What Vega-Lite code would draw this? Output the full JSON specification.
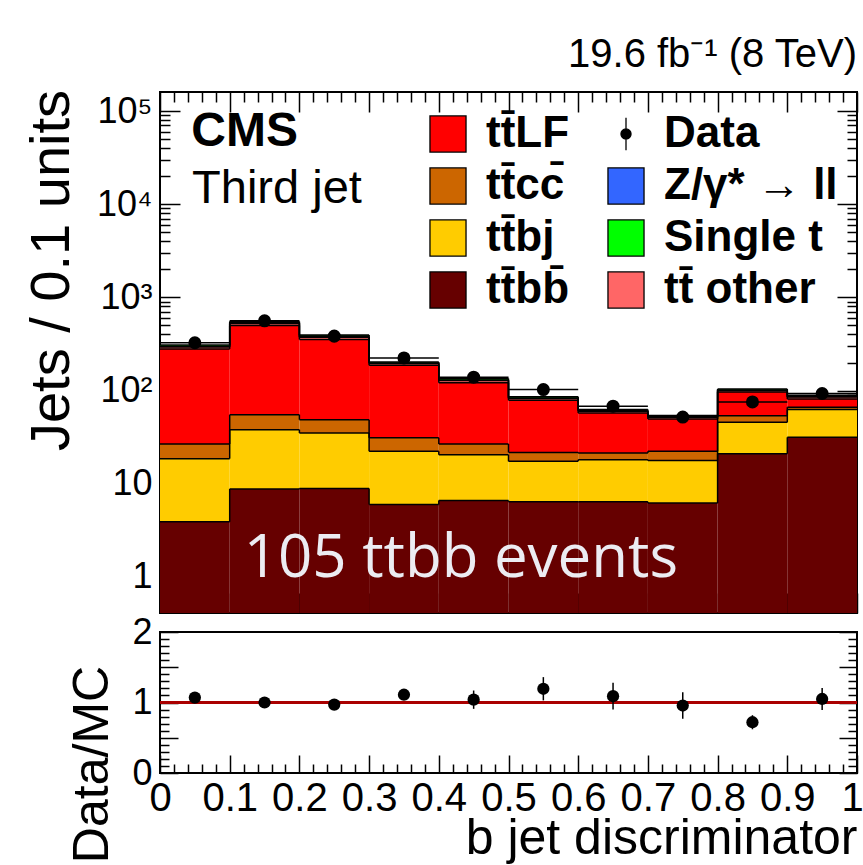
{
  "$schema": "https://vega.github.io/schema/vega-lite/v6.json",
  "background": "white",
  "padding": {"left": 22, "top": 34, "right": 0, "bottom": 0},
  "datasets": {
    "mc": [
      {"b0": 0.0, "b1": 0.1, "comp": "tt̄bb̄", "lo": 0.1, "hi": 3.9},
      {"b0": 0.0, "b1": 0.1, "comp": "tt̄bj", "lo": 3.9, "hi": 18.6},
      {"b0": 0.0, "b1": 0.1, "comp": "tt̄cc̄", "lo": 18.6, "hi": 26.7},
      {"b0": 0.0, "b1": 0.1, "comp": "tt̄LF", "lo": 26.7, "hi": 280},
      {"b0": 0.0, "b1": 0.1, "comp": "tt̄ other", "lo": 280, "hi": 294},
      {"b0": 0.0, "b1": 0.1, "comp": "Z/γ* → ll", "lo": 294, "hi": 298},
      {"b0": 0.0, "b1": 0.1, "comp": "Single t", "lo": 298, "hi": 308},
      {"b0": 0.1, "b1": 0.2, "comp": "tt̄bb̄", "lo": 0.1, "hi": 8.8},
      {"b0": 0.1, "b1": 0.2, "comp": "tt̄bj", "lo": 8.8, "hi": 38},
      {"b0": 0.1, "b1": 0.2, "comp": "tt̄cc̄", "lo": 38, "hi": 55},
      {"b0": 0.1, "b1": 0.2, "comp": "tt̄LF", "lo": 55, "hi": 500},
      {"b0": 0.1, "b1": 0.2, "comp": "tt̄ other", "lo": 500, "hi": 526},
      {"b0": 0.1, "b1": 0.2, "comp": "Z/γ* → ll", "lo": 526, "hi": 534},
      {"b0": 0.1, "b1": 0.2, "comp": "Single t", "lo": 534, "hi": 552},
      {"b0": 0.2, "b1": 0.3, "comp": "tt̄bb̄", "lo": 0.1, "hi": 8.9},
      {"b0": 0.2, "b1": 0.3, "comp": "tt̄bj", "lo": 8.9, "hi": 35},
      {"b0": 0.2, "b1": 0.3, "comp": "tt̄cc̄", "lo": 35, "hi": 48.7},
      {"b0": 0.2, "b1": 0.3, "comp": "tt̄LF", "lo": 48.7, "hi": 353},
      {"b0": 0.2, "b1": 0.3, "comp": "tt̄ other", "lo": 353, "hi": 373},
      {"b0": 0.2, "b1": 0.3, "comp": "Z/γ* → ll", "lo": 373, "hi": 379},
      {"b0": 0.2, "b1": 0.3, "comp": "Single t", "lo": 379, "hi": 394},
      {"b0": 0.3, "b1": 0.4, "comp": "tt̄bb̄", "lo": 0.1, "hi": 6.0},
      {"b0": 0.3, "b1": 0.4, "comp": "tt̄bj", "lo": 6.0, "hi": 22.3},
      {"b0": 0.3, "b1": 0.4, "comp": "tt̄cc̄", "lo": 22.3, "hi": 31.2},
      {"b0": 0.3, "b1": 0.4, "comp": "tt̄LF", "lo": 31.2, "hi": 187},
      {"b0": 0.3, "b1": 0.4, "comp": "tt̄ other", "lo": 187, "hi": 195},
      {"b0": 0.3, "b1": 0.4, "comp": "Z/γ* → ll", "lo": 195, "hi": 197},
      {"b0": 0.3, "b1": 0.4, "comp": "Single t", "lo": 197, "hi": 202},
      {"b0": 0.4, "b1": 0.5, "comp": "tt̄bb̄", "lo": 0.1, "hi": 6.6},
      {"b0": 0.4, "b1": 0.5, "comp": "tt̄bj", "lo": 6.6, "hi": 20.5},
      {"b0": 0.4, "b1": 0.5, "comp": "tt̄cc̄", "lo": 20.5, "hi": 26.7},
      {"b0": 0.4, "b1": 0.5, "comp": "tt̄LF", "lo": 26.7, "hi": 121},
      {"b0": 0.4, "b1": 0.5, "comp": "tt̄ other", "lo": 121, "hi": 128},
      {"b0": 0.4, "b1": 0.5, "comp": "Z/γ* → ll", "lo": 128, "hi": 130},
      {"b0": 0.4, "b1": 0.5, "comp": "Single t", "lo": 130, "hi": 135},
      {"b0": 0.5, "b1": 0.6, "comp": "tt̄bb̄", "lo": 0.1, "hi": 6.4},
      {"b0": 0.5, "b1": 0.6, "comp": "tt̄bj", "lo": 6.4, "hi": 17.4},
      {"b0": 0.5, "b1": 0.6, "comp": "tt̄cc̄", "lo": 17.4, "hi": 21.7},
      {"b0": 0.5, "b1": 0.6, "comp": "tt̄LF", "lo": 21.7, "hi": 78.7},
      {"b0": 0.5, "b1": 0.6, "comp": "tt̄ other", "lo": 78.7, "hi": 82.2},
      {"b0": 0.5, "b1": 0.6, "comp": "Z/γ* → ll", "lo": 82.2, "hi": 83.2},
      {"b0": 0.5, "b1": 0.6, "comp": "Single t", "lo": 83.2, "hi": 86},
      {"b0": 0.6, "b1": 0.7, "comp": "tt̄bb̄", "lo": 0.1, "hi": 6.4},
      {"b0": 0.6, "b1": 0.7, "comp": "tt̄bj", "lo": 6.4, "hi": 18.1},
      {"b0": 0.6, "b1": 0.7, "comp": "tt̄cc̄", "lo": 18.1, "hi": 21.4},
      {"b0": 0.6, "b1": 0.7, "comp": "tt̄LF", "lo": 21.4, "hi": 57.5},
      {"b0": 0.6, "b1": 0.7, "comp": "tt̄ other", "lo": 57.5, "hi": 60},
      {"b0": 0.6, "b1": 0.7, "comp": "Z/γ* → ll", "lo": 60, "hi": 60.7},
      {"b0": 0.6, "b1": 0.7, "comp": "Single t", "lo": 60.7, "hi": 62.5},
      {"b0": 0.7, "b1": 0.8, "comp": "tt̄bb̄", "lo": 0.1, "hi": 6.2},
      {"b0": 0.7, "b1": 0.8, "comp": "tt̄bj", "lo": 6.2, "hi": 17.8},
      {"b0": 0.7, "b1": 0.8, "comp": "tt̄cc̄", "lo": 17.8, "hi": 22.3},
      {"b0": 0.7, "b1": 0.8, "comp": "tt̄LF", "lo": 22.3, "hi": 49.5},
      {"b0": 0.7, "b1": 0.8, "comp": "tt̄ other", "lo": 49.5, "hi": 51.7},
      {"b0": 0.7, "b1": 0.8, "comp": "Z/γ* → ll", "lo": 51.7, "hi": 52.4},
      {"b0": 0.7, "b1": 0.8, "comp": "Single t", "lo": 52.4, "hi": 54},
      {"b0": 0.8, "b1": 0.9, "comp": "tt̄bb̄", "lo": 0.1, "hi": 21},
      {"b0": 0.8, "b1": 0.9, "comp": "tt̄bj", "lo": 21, "hi": 45.6},
      {"b0": 0.8, "b1": 0.9, "comp": "tt̄cc̄", "lo": 45.6, "hi": 53.8},
      {"b0": 0.8, "b1": 0.9, "comp": "tt̄LF", "lo": 53.8, "hi": 96.8},
      {"b0": 0.8, "b1": 0.9, "comp": "tt̄ other", "lo": 96.8, "hi": 100.3},
      {"b0": 0.8, "b1": 0.9, "comp": "Z/γ* → ll", "lo": 100.3, "hi": 101.3},
      {"b0": 0.8, "b1": 0.9, "comp": "Single t", "lo": 101.3, "hi": 104},
      {"b0": 0.9, "b1": 1.0, "comp": "tt̄bb̄", "lo": 0.1, "hi": 31.5},
      {"b0": 0.9, "b1": 1.0, "comp": "tt̄bj", "lo": 31.5, "hi": 62.5},
      {"b0": 0.9, "b1": 1.0, "comp": "tt̄cc̄", "lo": 62.5, "hi": 66.3},
      {"b0": 0.9, "b1": 1.0, "comp": "tt̄LF", "lo": 66.3, "hi": 81.3},
      {"b0": 0.9, "b1": 1.0, "comp": "tt̄ other", "lo": 81.3, "hi": 85.1},
      {"b0": 0.9, "b1": 1.0, "comp": "Z/γ* → ll", "lo": 85.1, "hi": 86.2},
      {"b0": 0.9, "b1": 1.0, "comp": "Single t", "lo": 86.2, "hi": 89}
    ],
    "obs": [
      {"xc": 0.05, "b0": 0.0, "b1": 0.1, "n": 326, "nlo": 308, "nhi": 344, "r": 1.07, "rlo": 1.04, "rhi": 1.10},
      {"xc": 0.15, "b0": 0.1, "b1": 0.2, "n": 561, "nlo": 537, "nhi": 585, "r": 1.00, "rlo": 0.98, "rhi": 1.02},
      {"xc": 0.25, "b0": 0.2, "b1": 0.3, "n": 384, "nlo": 364, "nhi": 404, "r": 0.97, "rlo": 0.94, "rhi": 1.00},
      {"xc": 0.35, "b0": 0.3, "b1": 0.4, "n": 224, "nlo": 209, "nhi": 239, "r": 1.11, "rlo": 1.05, "rhi": 1.17},
      {"xc": 0.45, "b0": 0.4, "b1": 0.5, "n": 139, "nlo": 127, "nhi": 151, "r": 1.04, "rlo": 0.91, "rhi": 1.17},
      {"xc": 0.55, "b0": 0.5, "b1": 0.6, "n": 102.5, "nlo": 92, "nhi": 113, "r": 1.195, "rlo": 1.03, "rhi": 1.36},
      {"xc": 0.65, "b0": 0.6, "b1": 0.7, "n": 68, "nlo": 60, "nhi": 76, "r": 1.09, "rlo": 0.90, "rhi": 1.28},
      {"xc": 0.75, "b0": 0.7, "b1": 0.8, "n": 52, "nlo": 45, "nhi": 59, "r": 0.957, "rlo": 0.77, "rhi": 1.145},
      {"xc": 0.85, "b0": 0.8, "b1": 0.9, "n": 75.5, "nlo": 67, "nhi": 84, "r": 0.72, "rlo": 0.62, "rhi": 0.82},
      {"xc": 0.95, "b0": 0.9, "b1": 1.0, "n": 93, "nlo": 83, "nhi": 103, "r": 1.05, "rlo": 0.895, "rhi": 1.205}
    ]
  },
  "config": {
    "view": {"stroke": "black", "strokeWidth": 2},
    "font": "Liberation Sans",
    "axis": {
      "domain": false, "grid": false, "tickColor": "black", "tickWidth": 1.5, "zindex": 1,
      "labelColor": "black", "titleColor": "black", "titleFontWeight": "normal",
      "labelFont": "Liberation Sans", "titleFont": "Liberation Sans"
    },
    "legend": {
      "orient": "none", "legendX": 266, "legendY": 20, "columns": 2,
      "symbolSize": 1300, "symbolOpacity": 1,
      "labelFontSize": 44, "labelFont": "Liberation Sans", "labelFontWeight": "bold",
      "labelColor": "black", "labelOffset": 16, "labelLimit": 400,
      "rowPadding": 8, "columnPadding": 34, "padding": 0, "title": null
    }
  },
  "bounds": "flush",
  "spacing": 19,
  "resolve": {"scale": {"color": "independent", "shape": "independent"}},
  "vconcat": [
    {
      "width": 697,
      "height": 521,
      "title": {"text": "19.6 fb⁻¹ (8 TeV)", "anchor": "end", "frame": "group", "fontSize": 40, "fontWeight": "normal", "font": "Liberation Sans", "offset": 14, "color": "black"},
      "resolve": {"axis": {"x": "independent", "y": "independent"}},
      "layer": [
        {
          "data": {"name": "mc"},
          "mark": {"type": "rect", "clip": true},
          "encoding": {
            "x": {"field": "b0", "type": "quantitative", "scale": {"domain": [0, 1], "nice": false, "zero": false},
              "axis": {"orient": "bottom", "values": [0,0.02,0.04,0.06,0.08,0.1,0.12,0.14,0.16,0.18,0.2,0.22,0.24,0.26,0.28,0.3,0.32,0.34,0.36,0.38,0.4,0.42,0.44,0.46,0.48,0.5,0.52,0.54,0.56,0.58,0.6,0.62,0.64,0.66,0.68,0.7,0.72,0.74,0.76,0.78,0.8,0.82,0.84,0.86,0.88,0.9,0.92,0.94,0.96,0.98,1],
                "labels": false, "title": null,
                "tickSize": {"condition": {"test": "abs(datum.value*10 - round(datum.value*10)) < 0.001", "value": -20}, "value": -10}}},
            "x2": {"field": "b1"},
            "y": {"field": "lo", "type": "quantitative", "scale": {"type": "log", "domain": [0.41, 160000], "nice": false},
              "axis": {"orient": "left", "values": [0.5,0.6,0.7,0.8,0.9,1,2,3,4,5,6,7,8,9,10,20,30,40,50,60,70,80,90,100,200,300,400,500,600,700,800,900,1000,2000,3000,4000,5000,6000,7000,8000,9000,10000,20000,30000,40000,50000,60000,70000,80000,90000,100000],
                "labelExpr": "datum.value == 1 ? '1' : datum.value == 10 ? '10' : datum.value == 100 ? '10²' : datum.value == 1000 ? '10³' : datum.value == 10000 ? '10⁴' : datum.value == 100000 ? '10⁵' : ''",
                "labelFontSize": 36, "labelPadding": 28,
                "tickSize": {"condition": {"test": "abs(log(datum.value)/LN10 - round(log(datum.value)/LN10)) < 0.001", "value": -20}, "value": -10},
                "title": "Jets / 0.1 units", "titleFontSize": 56, "titlePadding": 16, "titleY": 178}},
            "y2": {"field": "hi"},
            "color": {"field": "comp", "type": "nominal",
              "scale": {"domain": ["tt̄LF", "tt̄cc̄", "tt̄bj", "tt̄bb̄", "Data", "Z/γ* → ll", "Single t", "tt̄ other"],
                "range": ["#ff0000", "#cc6600", "#ffcc00", "#660000", "#000000", "#3366ff", "#00ff00", "#ff6666"]}}
          }
        },
        {
          "data": {"name": "mc"},
          "mark": {"type": "rule", "color": "black", "strokeWidth": 1.5, "clip": true},
          "encoding": {
            "x": {"field": "b0", "type": "quantitative", "axis": null},
            "x2": {"field": "b1"},
            "y": {"field": "hi", "type": "quantitative", "axis": null}
          }
        },
        {
          "data": {"name": "mc"},
          "transform": [
            {"window": [{"op": "lag", "field": "hi", "as": "prev"}], "groupby": ["comp"], "sort": [{"field": "b0"}]},
            {"filter": "datum.prev != null"}
          ],
          "mark": {"type": "rule", "color": "black", "strokeWidth": 1.5, "clip": true},
          "encoding": {
            "x": {"field": "b0", "type": "quantitative", "axis": null},
            "y": {"field": "prev", "type": "quantitative", "axis": null},
            "y2": {"field": "hi"}
          }
        },
        {
          "data": {"name": "mc"},
          "transform": [{"filter": "datum.comp == 'none'"}],
          "mark": {"type": "point", "filled": true, "opacity": 1},
          "encoding": {
            "x": {"field": "b0", "type": "quantitative", "axis": null},
            "y": {"field": "hi", "type": "quantitative", "axis": null},
            "color": {"field": "comp", "type": "nominal",
              "scale": {"domain": ["tt̄LF", "tt̄cc̄", "tt̄bj", "tt̄bb̄", "Data", "Z/γ* → ll", "Single t", "tt̄ other"],
                "range": ["#ff0000", "#cc6600", "#ffcc00", "#660000", "#000000", "#3366ff", "#00ff00", "#ff6666"]},
              "legend": {"encode": {"symbols": {"update": {"stroke": {"value": "black"}, "strokeWidth": {"value": 1.3}, "opacity": {"value": 1}}}}}},
            "shape": {"field": "comp", "type": "nominal",
              "scale": {"domain": ["tt̄LF", "tt̄cc̄", "tt̄bj", "tt̄bb̄", "Data", "Z/γ* → ll", "Single t", "tt̄ other"],
                "range": ["square", "square", "square", "square", "M0,-0.9L0,0.9M-0.28,0A0.28,0.28 0 1,0 0.28,0A0.28,0.28 0 1,0 -0.28,0Z", "square", "square", "square"]},
              "legend": {"encode": {"symbols": {"update": {"stroke": {"value": "black"}, "strokeWidth": {"value": 1.3}, "opacity": {"value": 1}}}}}}
          }
        },
        {
          "data": {"name": "obs"},
          "mark": {"type": "rule", "color": "black", "strokeWidth": 1.5},
          "encoding": {
            "x": {"field": "b0", "type": "quantitative",
              "axis": {"orient": "top", "values": [0,0.02,0.04,0.06,0.08,0.1,0.12,0.14,0.16,0.18,0.2,0.22,0.24,0.26,0.28,0.3,0.32,0.34,0.36,0.38,0.4,0.42,0.44,0.46,0.48,0.5,0.52,0.54,0.56,0.58,0.6,0.62,0.64,0.66,0.68,0.7,0.72,0.74,0.76,0.78,0.8,0.82,0.84,0.86,0.88,0.9,0.92,0.94,0.96,0.98,1],
                "labels": false, "title": null,
                "tickSize": {"condition": {"test": "abs(datum.value*10 - round(datum.value*10)) < 0.001", "value": -20}, "value": -10}}},
            "x2": {"field": "b1"},
            "y": {"field": "n", "type": "quantitative",
              "axis": {"orient": "right", "values": [0.5,0.6,0.7,0.8,0.9,1,2,3,4,5,6,7,8,9,10,20,30,40,50,60,70,80,90,100,200,300,400,500,600,700,800,900,1000,2000,3000,4000,5000,6000,7000,8000,9000,10000,20000,30000,40000,50000,60000,70000,80000,90000,100000],
                "labels": false, "title": null,
                "tickSize": {"condition": {"test": "abs(log(datum.value)/LN10 - round(log(datum.value)/LN10)) < 0.001", "value": -20}, "value": -10}}}
          }
        },
        {
          "data": {"name": "obs"},
          "mark": {"type": "rule", "color": "black", "strokeWidth": 1.5},
          "encoding": {
            "x": {"field": "xc", "type": "quantitative", "axis": null},
            "y": {"field": "nlo", "type": "quantitative", "axis": null},
            "y2": {"field": "nhi"}
          }
        },
        {
          "data": {"name": "obs"},
          "mark": {"type": "point", "filled": true, "color": "black", "size": 170, "opacity": 1},
          "encoding": {
            "x": {"field": "xc", "type": "quantitative", "axis": null},
            "y": {"field": "n", "type": "quantitative", "axis": null}
          }
        },
        {
          "data": {"values": [{}]},
          "mark": {"type": "text", "text": "CMS", "fontSize": 48, "fontWeight": "bold", "font": "Liberation Sans", "align": "left", "baseline": "alphabetic", "color": "black"},
          "encoding": {"x": {"datum": 0.045, "axis": null}, "y": {"datum": 42000, "axis": null}}
        },
        {
          "data": {"values": [{}]},
          "mark": {"type": "text", "text": "Third jet", "fontSize": 47, "font": "Liberation Sans", "align": "left", "baseline": "alphabetic", "color": "black"},
          "encoding": {"x": {"datum": 0.046, "axis": null}, "y": {"datum": 10300, "axis": null}}
        },
        {
          "data": {"values": [{}]},
          "mark": {"type": "text", "text": "105  ttbb  events", "fontSize": 60, "font": "Open Sans", "align": "left", "baseline": "alphabetic", "color": "#ececf2"},
          "encoding": {"x": {"datum": 0.12, "axis": null}, "y": {"datum": 1.0, "axis": null}}
        }
      ]
    },
    {
      "width": 697,
      "height": 141,
      "resolve": {"axis": {"x": "independent", "y": "independent"}},
      "layer": [
        {
          "data": {"values": [{}]},
          "mark": {"type": "rule", "color": "#aa0000", "strokeWidth": 3},
          "encoding": {"y": {"datum": 1, "type": "quantitative", "scale": {"domain": [0, 2], "nice": false, "zero": false},
            "axis": {"orient": "left", "values": [0,0.1,0.2,0.3,0.4,0.5,0.6,0.7,0.8,0.9,1,1.1,1.2,1.3,1.4,1.5,1.6,1.7,1.8,1.9,2],
              "labelExpr": "abs(datum.value*2 - round(datum.value*2)) < 0.001 ? format(datum.value, '~g') : ''",
              "labelFontSize": 36, "labelPadding": 26,
              "tickSize": {"condition": {"test": "abs(datum.value*2 - round(datum.value*2)) < 0.001", "value": -18}, "value": -9},
              "title": "Data/MC", "titleFontSize": 50, "titlePadding": 14, "titleY": 132}}}
        },
        {
          "data": {"name": "obs"},
          "mark": {"type": "rule", "color": "black", "strokeWidth": 1.5},
          "encoding": {
            "x": {"field": "xc", "type": "quantitative", "scale": {"domain": [0, 1], "nice": false, "zero": false},
              "axis": {"orient": "bottom", "values": [0,0.02,0.04,0.06,0.08,0.1,0.12,0.14,0.16,0.18,0.2,0.22,0.24,0.26,0.28,0.3,0.32,0.34,0.36,0.38,0.4,0.42,0.44,0.46,0.48,0.5,0.52,0.54,0.56,0.58,0.6,0.62,0.64,0.66,0.68,0.7,0.72,0.74,0.76,0.78,0.8,0.82,0.84,0.86,0.88,0.9,0.92,0.94,0.96,0.98,1],
                "labelExpr": "abs(datum.value*10 - round(datum.value*10)) < 0.001 ? format(datum.value, '~g') : ''",
                "labelFontSize": 40, "labelPadding": 23, "labelFlush": false, "labelOverlap": false,
                "labelOffset": {"condition": {"test": "datum.value == 1", "value": -5}, "value": 0},
                "tickSize": {"condition": {"test": "abs(datum.value*10 - round(datum.value*10)) < 0.001", "value": -18}, "value": -9},
                "title": "b jet discriminator", "titleFontSize": 50, "titleAnchor": "end", "titlePadding": -14}},
            "y": {"field": "rlo", "type": "quantitative", "axis": null},
            "y2": {"field": "rhi"}
          }
        },
        {
          "data": {"name": "obs"},
          "mark": {"type": "point", "filled": true, "color": "black", "size": 150, "opacity": 1},
          "encoding": {
            "x": {"field": "xc", "type": "quantitative", "axis": null},
            "y": {"field": "r", "type": "quantitative",
              "axis": {"orient": "right", "values": [0,0.1,0.2,0.3,0.4,0.5,0.6,0.7,0.8,0.9,1,1.1,1.2,1.3,1.4,1.5,1.6,1.7,1.8,1.9,2],
                "labels": false, "title": null,
                "tickSize": {"condition": {"test": "abs(datum.value*2 - round(datum.value*2)) < 0.001", "value": -18}, "value": -9}}}
          }
        }
      ]
    }
  ]
}
